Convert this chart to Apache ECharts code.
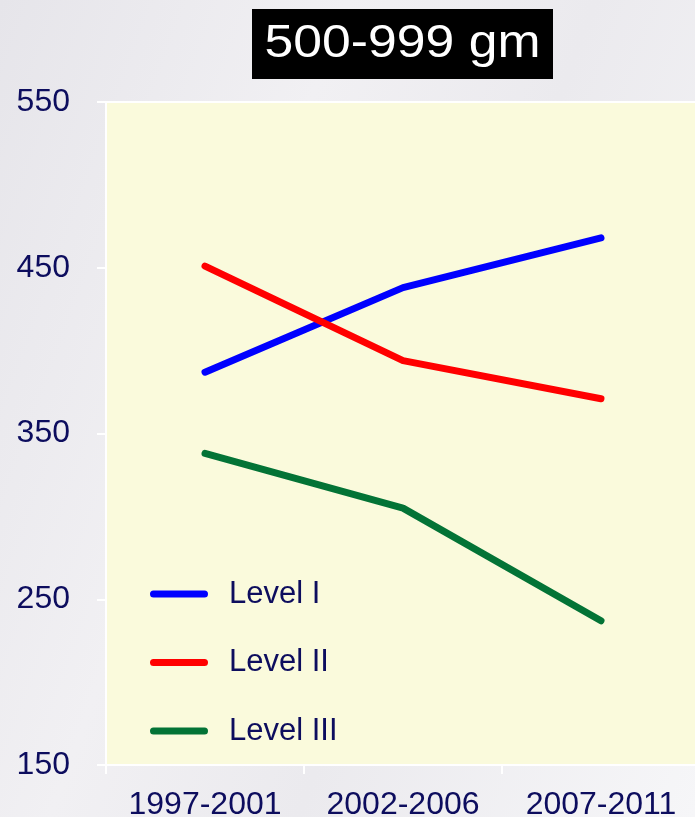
<!DOCTYPE html>
<html>
<head>
<meta charset="utf-8">
<script src="https://cdn.jsdelivr.net/npm/echarts@6/dist/echarts.min.js"></script>
<style>
html,body{margin:0;padding:0;width:695px;height:817px;overflow:hidden;
background:linear-gradient(110deg,#e6e5ea 0%,#f1f0f3 35%,#ebeaee 60%,#f6f6f8 100%);}
#chart{width:695px;height:817px;}
</style>
</head>
<body>
<div id="chart"></div>
<script>
const titleText = "500-999 gm";
const categories = ["1997-2001", "2002-2006", "2007-2011"];
const seriesNames = ["Level I", "Level II", "Level III"];
const levelI = [387, 438, 468];
const levelII = [451, 394, 371];
const levelIII = [338, 305, 237];
const yMin = 150, yMax = 550, yStep = 100;

const labelColor = "#0d0d5e";
const font = "'Liberation Sans', Arial, sans-serif";
const chart = echarts.init(document.getElementById('chart'), null, {renderer:'canvas'});
const mk = (name, data, color) => ({
  name, type: 'line', data, symbol: 'none', smooth: false,
  lineStyle: {color, width: 7, cap: 'round', join: 'round'},
  itemStyle: {color}
});
const pillIcon = 'path://M3.5,0 H54.5 A3.5,3.5 0 0 1 54.5,7 H3.5 A3.5,3.5 0 0 1 3.5,0 Z';
chart.setOption({
  backgroundColor: 'transparent',
  animation: false,
  graphic: [
    {type: 'rect', shape: {x: 252, y: 9, width: 301, height: 70}, style: {fill: '#000'}},
    {type: 'text', x: 402.5, y: 44, scaleX: 1.1,
     style: {text: titleText, fill: '#fff', font: "47px 'Liberation Sans', Arial, sans-serif",
             textAlign: 'center', textVerticalAlign: 'middle'}}
  ],
  grid: {left: 106, top: 102, width: 594, bottom: 52, show: true, containLabel: false,
         outerBoundsMode: 'none',
         backgroundColor: '#fafadc', borderColor: '#ffffff', borderWidth: 2},
  legend: {
    orient: 'vertical', left: 145, top: 571,
    itemWidth: 58, itemHeight: 7, itemGap: 32.5,
    icon: pillIcon,
    data: seriesNames,
    textStyle: {color: labelColor, fontSize: 31, fontFamily: font, lineHeight: 36, padding: [0,0,0,16]}
  },
  xAxis: {
    type: 'category', data: categories, boundaryGap: true,
    axisLine: {lineStyle: {color: '#ffffff', width: 2}},
    axisTick: {show: true, length: 9, lineStyle: {color: '#ffffff', width: 2}},
    axisLabel: {color: labelColor, fontSize: 32, fontFamily: font, margin: 24, interval: 0, hideOverlap: false}
  },
  yAxis: {
    type: 'value', min: yMin, max: yMax, interval: yStep,
    axisLine: {show: true, lineStyle: {color: '#ffffff', width: 2}},
    axisTick: {show: true, length: 9, lineStyle: {color: '#ffffff', width: 2}},
    splitLine: {show: false},
    axisLabel: {color: labelColor, fontSize: 32, fontFamily: font, margin: 36}
  },
  series: [
    mk(seriesNames[0], levelI, '#0000ff'),
    mk(seriesNames[1], levelII, '#ff0000'),
    mk(seriesNames[2], levelIII, '#037336')
  ]
});
</script>
</body>
</html>
